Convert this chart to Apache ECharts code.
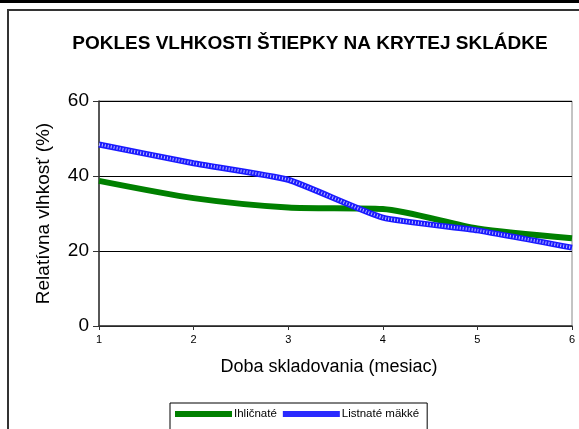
<!DOCTYPE html>
<html><head><meta charset="utf-8">
<script src="https://cdn.jsdelivr.net/npm/echarts@6/dist/echarts.min.js"></script>
<style>html,body{margin:0;padding:0;background:#fff}#c{width:579px;height:429px}</style>
</head><body><div id="c"></div>
<script>
const months = [1, 2, 3, 4, 5, 6];
const ihlicnate = [38.7, 34.1, 31.6, 31.2, 26.0, 23.4];
const listnate = [48.4, 43.4, 39.0, 28.9, 25.5, 20.9];
const yTicks = [0, 20, 40, 60];
const seriesNames = ['Ihličnaté', 'Listnaté mäkké'];

const chart = echarts.init(document.getElementById('c'), null, {renderer:'canvas'});
const font = 'Liberation Sans, Arial, sans-serif';
const blueData = months.map((m,i)=>[m, listnate[i]]);
chart.setOption({
  backgroundColor: '#fff',
  animation: false,
  title: {
    text: 'POKLES VLHKOSTI ŠTIEPKY NA KRYTEJ SKLÁDKE',
    left: 305, textAlign: 'center', top: 29,
    textStyle: {fontFamily: font, fontSize: 19, fontWeight: 'bold', color: '#000'}
  },
  legend: {
    left: 170, top: 403,
    data: seriesNames,
    icon: 'rect',
    borderColor: '#000', borderWidth: 1, borderRadius: 0,
    padding: [5, 8, 12, 5],
    itemGap: 6, itemWidth: 57, itemHeight: 6,
    textStyle: {fontFamily: font, fontSize: 11.5, color: '#000', padding: [0,0,0,-3]}
  },
  graphic: [
    {type: 'rect', shape: {x: 0, y: 0, width: 579, height: 3}, style: {fill: '#000'}, silent: true},
    {type: 'rect', shape: {x: 8, y: 10, width: 600, height: 500}, style: {fill: 'none', stroke: '#333', lineWidth: 2}, silent: true, z: -1}
  ],
  grid: {left: 99, right: 7, top: 101, bottom: 103, show: true, borderColor: '#888', borderWidth: 1},
  xAxis: {
    type: 'value', min: 1, max: 6, interval: 1,
    name: 'Doba skladovania (mesiac)', nameLocation: 'middle', nameGap: 32,
    nameTextStyle: {fontFamily: font, fontSize: 18, color: '#000', padding: [0, 13, 0, 0]},
    axisLine: {show: true, lineStyle: {color: '#333', width: 1.5}},
    axisTick: {show: true, length: 4, lineStyle: {color: '#333'}},
    axisLabel: {fontFamily: font, fontSize: 11, color: '#000', margin: 8},
    splitLine: {show: false}
  },
  yAxis: {
    type: 'value', min: 0, max: 60, interval: 20,
    name: 'Relatívna vlhkosť (%)', nameLocation: 'middle', nameGap: 46,
    nameTextStyle: {fontFamily: font, fontSize: 19, color: '#000'},
    axisLine: {show: true, lineStyle: {color: '#333', width: 1.5}},
    axisTick: {show: true, length: 6, lineStyle: {color: '#333'}},
    axisLabel: {fontFamily: font, fontSize: 19, color: '#000', margin: 10,
      formatter: v => yTicks.includes(v) ? String(v) : ''},
    splitLine: {show: true, lineStyle: {color: '#000', width: 1}}
  },
  series: [
    {name: seriesNames[0], type: 'line', symbol: 'none', smooth: 0.25,
     data: months.map((m,i)=>[m, ihlicnate[i]]),
     lineStyle: {color: '#008000', width: 6}, itemStyle: {color: '#008000'}, z: 2},
    {name: seriesNames[1], type: 'line', symbol: 'none', smooth: 0.15,
     data: blueData,
     lineStyle: {color: '#1a1aff', width: 6}, itemStyle: {color: '#2a2aff'}, z: 3},
    {name: 'texture', type: 'line', symbol: 'none', smooth: 0.15, silent: true,
     data: blueData,
     lineStyle: {color: 'rgba(255,255,255,0.7)', width: 3, type: [1, 2]}, z: 4}
  ]
});
</script></body></html>
